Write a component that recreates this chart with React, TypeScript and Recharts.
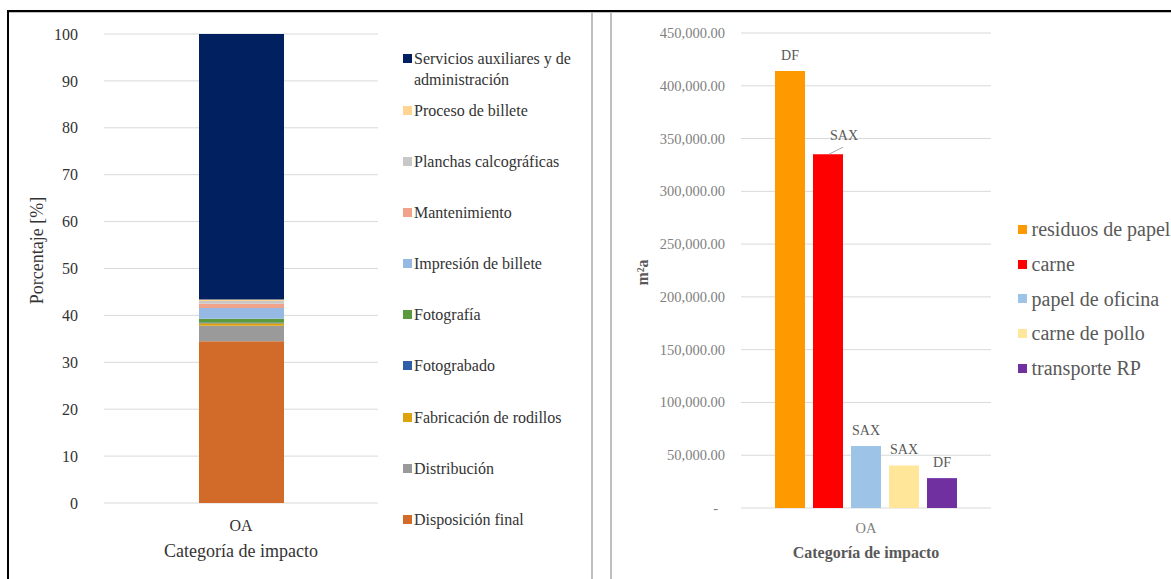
import React from 'react';
import { BarChart, Bar, XAxis, YAxis, CartesianGrid, Legend, LabelList } from 'recharts';

const FONT = "'Liberation Serif', 'Times New Roman', serif";

// ---------- Left chart data ----------
const leftCategories = ['OA'];
const leftSeriesNames = [
  'Disposición final',
  'Distribución',
  'Fabricación de rodillos',
  'Fotograbado',
  'Fotografía',
  'Impresión de billete',
  'Mantenimiento',
  'Planchas calcográficas',
  'Proceso de billete',
  'Servicios auxiliares y de administración',
];
const leftSeriesValues = [34.5, 3.3, 0.5, 0.2, 0.8, 2.3, 0.9, 0.55, 0.35, 56.6];
const leftSeriesColors = [
  '#D26B2A', '#9A9A9A', '#DDA30F', '#2F5EA8', '#5A9A3C',
  '#95B9E3', '#F1A28A', '#C8C8C8', '#FFD591', '#002060',
];
const leftTicks = [0, 10, 20, 30, 40, 50, 60, 70, 80, 90, 100];

// ---------- Right chart data ----------
const rightCategories = ['OA'];
const rightSeriesNames = ['residuos de papel', 'carne', 'papel de oficina', 'carne de pollo', 'transporte RP'];
const rightSeriesValues = [414000, 335200, 58700, 40300, 28300];
const rightSeriesLabels = ['DF', 'SAX', 'SAX', 'SAX', 'DF'];
const rightSeriesColors = ['#FF9900', '#FF0000', '#9DC3E6', '#FFE699', '#7030A0'];
const rightTicks = [0, 50000, 100000, 150000, 200000, 250000, 300000, 350000, 400000, 450000];

const leftData = leftCategories.map((c) => {
  const row: any = { cat: c };
  leftSeriesNames.forEach((n, i) => { row['s' + i] = leftSeriesValues[i]; });
  return row;
});

const rightData = rightCategories.map((c) => {
  const row: any = { cat: c };
  rightSeriesNames.forEach((n, i) => {
    row['r' + i] = rightSeriesValues[i];
    row['l' + i] = rightSeriesLabels[i];
  });
  return row;
});

const LeftLegend = () => {
  const order = leftSeriesNames.map((n, i) => i).reverse();
  return (
    <div style={{ fontFamily: FONT, fontSize: 16, color: '#333', lineHeight: '21px' }}>
      {order.map((i, k) => (
        <div key={i} style={{ display: 'flex', alignItems: 'flex-start', marginTop: k === 0 ? 0 : k === 1 ? 9.5 : 30.2 }}>
          <div style={{ width: 9, height: 9, background: leftSeriesColors[i], marginTop: 6, flex: '0 0 9px' }} />
          <div style={{ marginLeft: 2, width: 168 }}>{leftSeriesNames[i]}</div>
        </div>
      ))}
    </div>
  );
};

const RightLegend = () => (
  <div style={{ fontFamily: FONT, fontSize: 20, color: '#595959', lineHeight: '34.8px', whiteSpace: 'nowrap' }}>
    {rightSeriesNames.map((n, i) => (
      <div key={i} style={{ display: 'flex', alignItems: 'center' }}>
        <div style={{ width: 9, height: 9, background: rightSeriesColors[i], flex: '0 0 9px' }} />
        <div style={{ marginLeft: 4.5 }}>{n}</div>
      </div>
    ))}
  </div>
);

const fmt = (v: number) => v.toLocaleString('en-US', { minimumFractionDigits: 2, maximumFractionDigits: 2 });

const RightTick = (props: any) => {
  const { x, y, payload } = props;
  const v = payload.value;
  return (
    <text x={v === 0 ? x - 7 : x} y={y} textAnchor="end" dominantBaseline="central" fill="#7f7f7f" fontSize={14.5} fontFamily={FONT}>
      {v === 0 ? '-' : fmt(v)}
    </text>
  );
};

const makeLabel = (idx: number) => (props: any) => {
  const { x, y, width, value } = props;
  const cx = x + width / 2;
  if (idx === 1) {
    return (
      <g>
        <line x1={cx + 1} y1={y} x2={cx + 15} y2={y - 7} stroke="#a6a6a6" strokeWidth={1} />
        <text x={cx + 16} y={y - 14} textAnchor="middle" fill="#595959" fontSize={14} fontFamily={FONT}>{value}</text>
      </g>
    );
  }
  return (
    <text x={cx} y={y - 11} textAnchor="middle" fill="#595959" fontSize={14} fontFamily={FONT}>{value}</text>
  );
};

export default function App() {
  return (
    <div style={{ position: 'absolute', left: 0, top: 0, width: 1171, height: 579, background: '#fff', overflow: 'hidden', fontFamily: FONT }}>
      <div style={{ position: 'absolute', left: 0, top: 0 }}>
        <BarChart width={592} height={579} data={leftData} margin={{ top: 34, right: 214, bottom: 0, left: 0 }}>
          <CartesianGrid vertical={false} stroke="#d9d9d9" />
          <XAxis
            dataKey="cat"
            height={76}
            axisLine={false}
            tickLine={false}
            tickSize={0}
            tickMargin={17}
            tick={{ fill: '#333', fontSize: 16, fontFamily: FONT }}
            label={(p: any) => {
              const vb = p.viewBox;
              return (
                <text x={vb.x + vb.width / 2} y={vb.y + 54} textAnchor="middle" fill="#333" fontSize={18} fontFamily={FONT}>
                  Categoría de impacto
                </text>
              );
            }}
          />
          <YAxis
            width={104}
            domain={[0, 100]}
            ticks={leftTicks}
            axisLine={false}
            tickLine={false}
            tickSize={0}
            tickMargin={26}
            tick={{ fill: '#333', fontSize: 16, fontFamily: FONT }}
            label={(p: any) => {
              const vb = p.viewBox;
              const x = vb.x + 37;
              const y = vb.y + vb.height / 2 - 18;
              return (
                <text x={x} y={y} transform={`rotate(-90, ${x}, ${y})`} textAnchor="middle" dominantBaseline="central" fill="#333" fontSize={18} fontFamily={FONT}>
                  Porcentaje [%]
                </text>
              );
            }}
          />
          <Legend
            layout="vertical"
            align="center"
            verticalAlign="middle"
            content={() => <LeftLegend />}
            wrapperStyle={{ left: 403, top: 48, width: 185 }}
          />
          {leftSeriesNames.map((n, i) => (
            <Bar key={i} dataKey={'s' + i} name={n} stackId="a" fill={leftSeriesColors[i]} barSize={85} isAnimationActive={false} />
          ))}
        </BarChart>
      </div>

      <div style={{ position: 'absolute', left: 600, top: 0 }}>
        <BarChart width={571} height={579} data={rightData} margin={{ top: 33, right: 180, bottom: 0, left: 0 }} barGap={8}>
          <CartesianGrid vertical={false} stroke="#d9d9d9" />
          <XAxis
            dataKey="cat"
            height={71}
            axisLine={false}
            tickLine={false}
            tickSize={0}
            tickMargin={15}
            tick={{ fill: '#7f7f7f', fontSize: 14.5, fontFamily: FONT }}
            label={(p: any) => {
              const vb = p.viewBox;
              return (
                <text x={vb.x + vb.width / 2} y={vb.y + 50} textAnchor="middle" fill="#595959" fontSize={16} fontWeight="bold" fontFamily={FONT}>
                  Categoría de impacto
                </text>
              );
            }}
          />
          <YAxis
            width={141}
            domain={[0, 450000]}
            ticks={rightTicks}
            axisLine={false}
            tickLine={false}
            tickSize={0}
            tickMargin={16}
            tick={<RightTick />}
            label={(p: any) => {
              const vb = p.viewBox;
              const x = vb.x + 42;
              const y = vb.y + vb.height / 2 + 2;
              return (
                <text x={x} y={y} transform={`rotate(-90, ${x}, ${y})`} textAnchor="middle" dominantBaseline="central" fill="#595959" fontSize={16} fontWeight="bold" fontFamily={FONT}>
                  m²a
                </text>
              );
            }}
          />
          <Legend
            layout="vertical"
            align="center"
            verticalAlign="middle"
            content={() => <RightLegend />}
            wrapperStyle={{ left: 418, top: 212, width: 160 }}
          />
          {rightSeriesNames.map((n, i) => (
            <Bar key={i} dataKey={'r' + i} name={n} fill={rightSeriesColors[i]} barSize={30} isAnimationActive={false}>
              <LabelList dataKey={'l' + i} content={makeLabel(i)} />
            </Bar>
          ))}
        </BarChart>
      </div>

      {/* frame */}
      <div style={{ position: 'absolute', left: 7, top: 10, width: 1164, height: 2, background: '#000' }} />
      <div style={{ position: 'absolute', left: 7, top: 12, width: 1164, height: 1, background: '#bdbdbd' }} />
      <div style={{ position: 'absolute', left: 7, top: 10, width: 2, height: 569, background: '#000' }} />
      <div style={{ position: 'absolute', left: 591, top: 12, width: 2, height: 567, background: '#bfbfbf' }} />
      <div style={{ position: 'absolute', left: 610, top: 12, width: 2, height: 567, background: '#bfbfbf' }} />
    </div>
  );
}
